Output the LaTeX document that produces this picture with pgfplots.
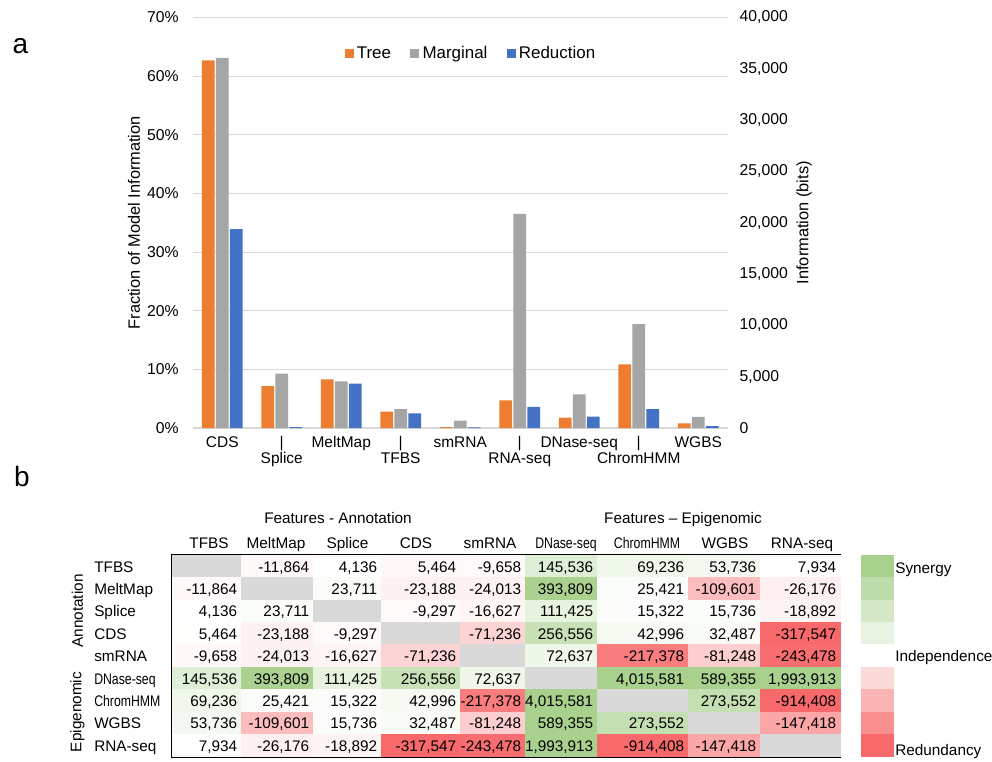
\documentclass[border=0pt]{standalone}
\usepackage{fontspec}
\setmainfont{Liberation Sans}
\usepackage{graphicx}
\usepackage{pgfplots}
\usepackage{pgfplotstable}
\pgfplotsset{compat=1.18}

\definecolor{cTree}{RGB}{237,125,49}
\definecolor{cMarg}{RGB}{165,165,165}
\definecolor{cRedu}{RGB}{68,114,196}
\definecolor{gridc}{RGB}{217,217,217}
\newcommand{\nar}[1]{\scalebox{0.8}[1]{#1}}
\newcommand{\tf}{\fontsize{11.5}{12.5}\selectfont}

% cell mark: width \cw px (0.75pt per px), height 22.4 px
\pgfdeclareplotmark{cell}{%
  \pgfpathrectangle{\pgfpoint{-\cw*0.375pt}{-8.4pt}}{\pgfpoint{\cw*0.75pt}{16.8pt}}%
  \pgfusepathqfillstroke}

\pgfplotstableread{
cat tree marg redu
0 62.7 63.1 33.9
1 7.16 9.26 0.17
2 8.3 7.95 7.56
3 2.8 3.24 2.5
4 0.17 1.25 0.1
5 4.7 36.5 3.6
6 1.76 5.74 1.93
7 10.85 17.7 3.24
8 0.8 1.9 0.3
}\bardata

% colour level of each cell (2 = diagonal, grey)
\pgfplotstableread{
r xc w m
0 206.5 69 2
0 277 72 -0.047
0 347 68 0.010
0 420.5 79 -0.05
0 492.5 65 -0.039
0 561 72 0.364
0 642.5 91 0.173
0 724 72 0.134
0 800 80 0.020
1 206.5 69 -0.047
1 277 72 2
1 347 68 0.059
1 420.5 79 -0.093
1 492.5 65 -0.096
1 561 72 0.985
1 642.5 91 0.064
1 724 72 -0.438
1 800 80 -0.105
2 206.5 69 0.010
2 277 72 0.059
2 347 68 2
2 420.5 79 -0.037
2 492.5 65 -0.067
2 561 72 0.279
2 642.5 91 0.038
2 724 72 0.039
2 800 80 -0.076
3 206.5 69 0.014
3 277 72 -0.093
3 347 68 -0.037
3 420.5 79 2
3 492.5 65 -0.285
3 561 72 0.641
3 642.5 91 0.107
3 724 72 0.081
3 800 80 -1
4 206.5 69 -0.039
4 277 72 -0.096
4 347 68 -0.067
4 420.5 79 -0.285
4 492.5 65 2
4 561 72 0.182
4 642.5 91 -0.870
4 724 72 -0.325
4 800 80 -0.974
5 206.5 69 0.364
5 277 72 0.985
5 347 68 0.279
5 420.5 79 0.641
5 492.5 65 0.182
5 561 72 2
5 642.5 91 1
5 724 72 1
5 800 80 1
6 206.5 69 0.173
6 277 72 0.064
6 347 68 0.038
6 420.5 79 0.107
6 492.5 65 -0.870
6 561 72 1
6 642.5 91 2
6 724 72 0.684
6 800 80 -1
7 206.5 69 0.134
7 277 72 -0.438
7 347 68 0.039
7 420.5 79 0.081
7 492.5 65 -0.325
7 561 72 1
7 642.5 91 0.684
7 724 72 2
7 800 80 -0.590
8 206.5 69 0.020
8 277 72 -0.105
8 347 68 -0.076
8 420.5 79 -1
8 492.5 65 -0.974
8 561 72 1
8 642.5 91 -1
8 724 72 -0.590
8 800 80 2
}\cells

% cell values (text)
\pgfplotstableread{
r xc w lab
0 277 72 -11,864
0 347 68 4,136
0 420.5 79 5,464
0 492.5 65 -9,658
0 561 72 145,536
0 642.5 91 69,236
0 724 72 53,736
0 800 80 7,934
1 206.5 69 -11,864
1 347 68 23,711
1 420.5 79 -23,188
1 492.5 65 -24,013
1 561 72 393,809
1 642.5 91 25,421
1 724 72 -109,601
1 800 80 -26,176
2 206.5 69 4,136
2 277 72 23,711
2 420.5 79 -9,297
2 492.5 65 -16,627
2 561 72 111,425
2 642.5 91 15,322
2 724 72 15,736
2 800 80 -18,892
3 206.5 69 5,464
3 277 72 -23,188
3 347 68 -9,297
3 492.5 65 -71,236
3 561 72 256,556
3 642.5 91 42,996
3 724 72 32,487
3 800 80 -317,547
4 206.5 69 -9,658
4 277 72 -24,013
4 347 68 -16,627
4 420.5 79 -71,236
4 561 72 72,637
4 642.5 91 -217,378
4 724 72 -81,248
4 800 80 -243,478
5 206.5 69 145,536
5 277 72 393,809
5 347 68 111,425
5 420.5 79 256,556
5 492.5 65 72,637
5 642.5 91 4,015,581
5 724 72 589,355
5 800 80 1,993,913
6 206.5 69 69,236
6 277 72 25,421
6 347 68 15,322
6 420.5 79 42,996
6 492.5 65 -217,378
6 561 72 4,015,581
6 724 72 273,552
6 800 80 -914,408
7 206.5 69 53,736
7 277 72 -109,601
7 347 68 15,736
7 420.5 79 32,487
7 492.5 65 -81,248
7 561 72 589,355
7 642.5 91 273,552
7 800 80 -147,418
8 206.5 69 7,934
8 277 72 -26,176
8 347 68 -18,892
8 420.5 79 -317,547
8 492.5 65 -243,478
8 561 72 1,993,913
8 642.5 91 -914,408
8 724 72 -147,418
}\labs

\pgfplotstableread{
r m
0 1
1 0.75
2 0.5
3 0.25
4 0
5 -0.25
6 -0.5
7 -0.75
8 -1
}\keydata

\begin{document}
\begin{tikzpicture}[font=\tf]
\useasboundingbox (0,0) rectangle (744pt,-570.75pt);

% ---------- canvas axis (pixel coordinates), panel b ----------
\begin{axis}[at={(0pt,0pt)}, anchor=north west, scale only axis,
  width=744pt, height=570.75pt,
  xmin=0, xmax=992, ymin=0, ymax=761, y dir=reverse,
  hide axis, clip=false,
  colormap={hm}{rgb255=(248,105,107) rgb255=(255,255,255) rgb255=(169,209,142) rgb255=(217,217,217)},
  point meta min=-1, point meta max=2]

\addplot[scatter, only marks, mark=cell, point meta=explicit,
  scatter/use mapped color={draw=mapped color, fill=mapped color},
  mark options={line width=0.3pt},
  visualization depends on={\thisrow{w} \as \cw}]
  table[x=xc, y expr=566.2+22.4*\thisrow{r}, meta=m] {\cells};

\addplot[draw=none, mark=none, point meta=explicit symbolic,
  nodes near coords,
  every node near coord/.append style={anchor=base east, inner sep=0pt,
     yshift=-4.35pt, font=\tf, text=black}]
  table[x expr=\thisrow{xc}+0.5*\thisrow{w}-3.5, y expr=566.2+22.4*\thisrow{r}, meta=lab] {\labs};

\addplot[scatter, only marks, mark=cell, point meta=explicit,
  scatter/use mapped color={draw=mapped color, fill=mapped color},
  mark options={line width=0.3pt},
  visualization depends on={32 \as \cw}]
  table[x expr=876.7, y expr=566.2+22.4*\thisrow{r}, meta=m] {\keydata};

% table borders
\draw[line width=1.1pt] (axis cs:525,555) -- (axis cs:525,756.6);
\draw[line width=1.1pt] (axis cs:172,667) -- (axis cs:840,667);
\draw[line width=2pt] (axis cs:172,555) rectangle (axis cs:840,756.6);

% panel labels
\node[font=\fontsize{21}{24}\selectfont, anchor=base] at (axis cs:20.3,53.3) {a};
\node[font=\fontsize{21}{24}\selectfont, anchor=base] at (axis cs:22,486.7) {b};

% headers
\node[anchor=base] at (axis cs:338,523.5) {Features - Annotation};
\node[anchor=base] at (axis cs:683,523.5) {Features – Epigenomic};
\node[anchor=base] at (axis cs:209,548.3) {TFBS};
\node[anchor=base] at (axis cs:276,548.3) {MeltMap};
\node[anchor=base] at (axis cs:347.5,548.3) {Splice};
\node[anchor=base] at (axis cs:416,548.3) {CDS};
\node[anchor=base] at (axis cs:490,548.3) {smRNA};
\node[anchor=base] at (axis cs:566,548.3) {\nar{DNase-seq}};
\node[anchor=base] at (axis cs:647,548.3) {\nar{ChromHMM}};
\node[anchor=base] at (axis cs:725,548.3) {WGBS};
\node[anchor=base] at (axis cs:802,548.3) {RNA-seq};

% row labels
\node[anchor=base west, inner sep=0pt] at (axis cs:94,572.0) {TFBS};
\node[anchor=base west, inner sep=0pt] at (axis cs:94,594.4) {MeltMap};
\node[anchor=base west, inner sep=0pt] at (axis cs:94,616.8) {Splice};
\node[anchor=base west, inner sep=0pt] at (axis cs:94,639.2) {CDS};
\node[anchor=base west, inner sep=0pt] at (axis cs:94,661.6) {smRNA};
\node[anchor=base west, inner sep=0pt] at (axis cs:94,684.0) {\nar{DNase-seq}};
\node[anchor=base west, inner sep=0pt] at (axis cs:94,706.4) {\nar{ChromHMM}};
\node[anchor=base west, inner sep=0pt] at (axis cs:94,728.8) {WGBS};
\node[anchor=base west, inner sep=0pt] at (axis cs:94,751.2) {RNA-seq};

\node[rotate=90, anchor=center] at (axis cs:77.5,611) {Annotation};
\node[rotate=90, anchor=center] at (axis cs:77.5,712) {Epigenomic};

% key labels
\node[anchor=base west, inner sep=0pt] at (axis cs:895,573.3) {Synergy};
\node[anchor=base west, inner sep=0pt] at (axis cs:895,661.7) {Independence};
\node[anchor=base west, inner sep=0pt] at (axis cs:895,755) {Redundancy};
\end{axis}

% ---------- panel a : bars, left axis ----------
\begin{axis}[at={(144.375pt,-321pt)}, anchor=south west, scale only axis,
  width=401.625pt, height=307.875pt,
  xmin=-0.5, xmax=8.5, ymin=0, ymax=70, enlargelimits=false,
  ybar=1pt, bar width=9.5pt,
  axis line style={draw=none}, major tick length=0pt,
  ymajorgrids, grid style={gridc, line width=0.8pt},
  ytick={0,10,...,70},
  yticklabel={\pgfmathprintnumber{\tick}\%},
  yticklabel style={font=\fontsize{11.8}{13}\selectfont, xshift=-6.8pt},
  xtick={0,...,8},
  xticklabels={\strut CDS, {\strut|\\Splice}, \strut MeltMap, {\strut|\\TFBS}, \strut smRNA, {\strut|\\RNA-seq}, \strut DNase-seq, {\strut|\\ChromHMM}, \strut WGBS},
  xticklabel style={align=center, font=\fontsize{11.6}{12.5}\selectfont, yshift=-2.2pt},
  /pgf/number format/assume math mode=true,
  ylabel={Fraction of Model Information},
  every axis y label/.style={at={(rel axis cs:0,0.5)}, xshift=-43.9pt, rotate=90, anchor=center, font=\fontsize{12.3}{14}\selectfont},
  legend image code/.code={\fill[#1] (0pt,-3.4pt) rectangle (6.8pt,3.4pt);},
  legend style={at={(0.521,0.913)}, anchor=center, draw=none, fill=none,
    legend columns=-1, font=\fontsize{12.7}{14}\selectfont,
    /tikz/every even column/.append style={column sep=12pt},
    nodes={inner sep=2.4pt}},
]
\addplot[fill=cTree, draw=none] table[x=cat, y=tree] {\bardata};
\addplot[fill=cMarg, draw=none] table[x=cat, y=marg] {\bardata};
\addplot[fill=cRedu, draw=none] table[x=cat, y=redu] {\bardata};
\legend{Tree, Marginal, Reduction}
\end{axis}

% ---------- panel a : right axis ----------
\begin{axis}[at={(144.375pt,-321pt)}, anchor=south west, scale only axis,
  width=401.625pt, height=307.875pt,
  xmin=-0.5, xmax=8.5, ymin=0, ymax=40000, enlargelimits=false,
  axis x line=none, axis y line*=right, axis line style={draw=none},
  major tick length=0pt,
  ytick={0,5000,...,40000}, scaled y ticks=false,
  yticklabel style={/pgf/number format/fixed, /pgf/number format/1000 sep={,},
    font=\fontsize{11.8}{13}\selectfont, xshift=5.2pt},
  /pgf/number format/assume math mode=true,
  ylabel={Information (bits)},
  every axis y label/.style={at={(rel axis cs:1,0.5)}, xshift=57pt, rotate=90, anchor=center, font=\fontsize{12.3}{14}\selectfont},
]
\end{axis}
\end{tikzpicture}
\end{document}
